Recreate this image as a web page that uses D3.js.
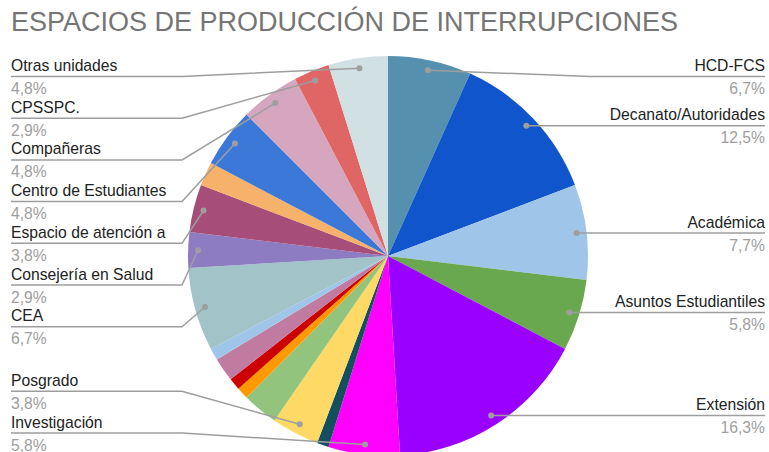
<!DOCTYPE html>
<html>
<head>
<meta charset="utf-8">
<script src="https://cdn.jsdelivr.net/npm/d3@7"></script>
<style>
  body { margin: 0; background: #fff; }
  svg { display: block; font-family: Arial, "Liberation Sans", sans-serif; }
</style>
</head>
<body>
<svg id="chart"></svg>
<script>
// Pie chart: where interruptions are produced (counts out of 104)
const categories = [
  "HCD-FCS", "Decanato/Autoridades", "Académica", "Asuntos Estudiantiles",
  "Extensión", "Investigación", "", "Posgrado", "", "", "", "", "",
  "CEA", "Consejería en Salud", "Espacio de atención a", "",
  "Centro de Estudiantes", "Compañeras", "CPSSPC.", "Otras unidades"
];
const counts = [7, 13, 8, 6, 17, 6, 1, 4, 3, 1, 1, 2, 1, 7, 3, 4, 2, 5, 5, 3, 5];
const colors = [
  "#5591ae", "#1155cc", "#9fc5e8", "#6aa84f", "#9900ff", "#ff00ff", "#134f5c",
  "#ffd966", "#93c47d", "#ff9900", "#cc0000", "#c27ba0", "#9fc5e8", "#a2c4c9",
  "#8e7cc3", "#a64d79", "#f6b26b", "#3c78d8", "#d5a6bd", "#e06666", "#d0e0e3"
];

const width = 769, height = 452;
const cx = 388, cy = 256, radius = 200;

const svg = d3.select("#chart").attr("width", width).attr("height", height);

// Title
svg.append("text")
  .attr("x", 11)
  .attr("y", 31)
  .style("font-size", "27px")
  .style("fill", "#757575")
  .text("ESPACIOS DE PRODUCCIÓN DE INTERRUPCIONES");

const total = d3.sum(counts);
const data = counts.map((c, i) => ({ name: categories[i], value: c, color: colors[i] }));

const pie = d3.pie().sort(null).value(d => d.value);
const arcs = pie(data);

const arc = d3.arc().innerRadius(0).outerRadius(radius);
const dotArc = d3.arc().innerRadius(radius * 0.95).outerRadius(radius * 0.95);

const g = svg.append("g").attr("transform", `translate(${cx},${cy})`);

g.selectAll("path.slice")
  .data(arcs)
  .join("path")
  .attr("class", "slice")
  .attr("fill", d => d.data.color)
  .attr("d", arc);

// Label layout: stack labels on each side, keep minimum gap
const minY = 76.5, maxY = 433, gap = 41.7;
const labelled = arcs.filter(d => d.data.name !== "").map(d => {
  const [x, y] = dotArc.centroid(d);
  const mid = (d.startAngle + d.endAngle) / 2;
  return { d, dotX: cx + x, dotY: cy + y, side: mid < Math.PI ? "right" : "left", lineY: cy + y };
});

["left", "right"].forEach(side => {
  const items = labelled.filter(l => l.side === side).sort((a, b) => a.dotY - b.dotY);
  items.forEach((l, i) => {
    l.lineY = Math.max(l.dotY, minY, i > 0 ? items[i - 1].lineY + gap : -Infinity);
  });
  for (let i = items.length - 1; i >= 0; i--) {
    const l = items[i];
    l.lineY = Math.min(l.lineY, maxY, i < items.length - 1 ? items[i + 1].lineY - gap : Infinity);
  }
});

const fmt = v => (v / total * 100).toFixed(1).replace(".", ",") + "%";

const labels = svg.append("g");

labels.selectAll("polyline")
  .data(labelled)
  .join("polyline")
  .attr("fill", "none")
  .attr("stroke", "#9e9e9e")
  .attr("stroke-width", 1.5)
  .attr("points", l => l.side === "right"
    ? [[l.dotX, l.dotY], [Math.max(l.dotX, 590), l.lineY], [765, l.lineY]].join(" ")
    : [[l.dotX, l.dotY], [Math.min(l.dotX, 182), l.lineY], [11, l.lineY]].join(" "));

labels.selectAll("circle")
  .data(labelled)
  .join("circle")
  .attr("cx", l => l.dotX)
  .attr("cy", l => l.dotY)
  .attr("r", 3)
  .attr("fill", "#9e9e9e");

labels.selectAll("text.name")
  .data(labelled)
  .join("text")
  .attr("class", "name")
  .attr("x", l => l.side === "right" ? 765 : 11)
  .attr("y", l => l.lineY - 5.5)
  .attr("text-anchor", l => l.side === "right" ? "end" : "start")
  .style("font-size", "15.7px")
  .style("fill", "#222")
  .text(l => l.d.data.name);

labels.selectAll("text.pct")
  .data(labelled)
  .join("text")
  .attr("class", "pct")
  .attr("x", l => l.side === "right" ? 765 : 11)
  .attr("y", l => l.lineY + 17.5)
  .attr("text-anchor", l => l.side === "right" ? "end" : "start")
  .style("font-size", "15.7px")
  .style("fill", "#9e9e9e")
  .text(l => fmt(l.d.data.value));
</script>
</body>
</html>
